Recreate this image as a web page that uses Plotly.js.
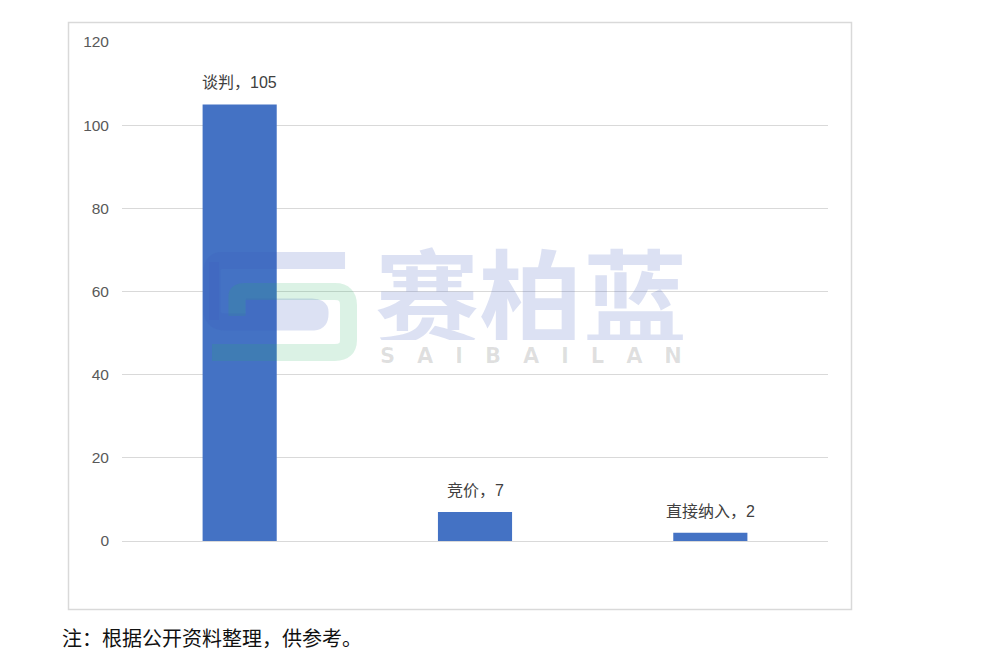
<!DOCTYPE html>
<html>
<head>
<meta charset="utf-8">
<script src="https://cdn.plot.ly/plotly-3.0.1.min.js"></script>
<style>html,body{margin:0;padding:0;background:#fff;}#chart{width:1000px;height:670px;}</style>
</head>
<body>
<div id="chart"></div>
<script>
const categories = ["谈判", "竞价", "直接纳入"];
const values = [105, 7, 2];
const tickVals = [0, 20, 40, 60, 80, 100, 120];
const footnote = "注：根据公开资料整理，供参考。";
const wmTitle = "赛柏蓝";
const wmLetters = ["S", "A", "I", "B", "A", "I", "L", "A", "N"];

const L = 122, R = 828, T = 42, B = 541;
const px = x => (x - L) / (R - L);
const py = y => (B - y) / (B - T);
function p(cmd, pts) { return cmd + ' ' + pts.map(q => px(q[0]).toFixed(4) + ',' + py(q[1]).toFixed(4)).join(' '); }

const bluePath = [
  p('M', [[345, 260.5]]), p('L', [[222, 260.5]]), p('Q', [[212, 260.5], [212, 272]]),
  p('L', [[212, 310]]), p('Q', [[212, 322], [226, 322]]), p('L', [[314, 322]]),
  p('Q', [[320, 322], [320, 314]]), p('L', [[320, 312]]), p('Q', [[320, 307], [312, 307]]),
  p('L', [[246, 307]])
].join(' ');
const blueLeft = [p('M', [[214, 262]]), p('L', [[214, 320]])].join(' ');
const greenPath = [
  p('M', [[237, 316]]), p('L', [[237, 296]]), p('Q', [[237, 291.5], [245, 291.5]]),
  p('L', [[335, 291.5]]), p('Q', [[348.5, 291.5], [348.5, 305]]), p('L', [[348.5, 340]]),
  p('Q', [[348.5, 352.5], [335, 352.5]]), p('L', [[212, 352.5]])
].join(' ');

const trace = {
  type: 'bar',
  x: categories,
  y: values,
  marker: {color: '#4472c4'},
  width: 0.315,
  hoverinfo: 'skip'
};

const annotations = categories.map((c, i) => ({
  x: c, y: values[i], xref: 'x', yref: 'y',
  text: c + '，' + values[i],
  showarrow: false, yanchor: 'bottom', yshift: 11,
  font: {family: 'Liberation Sans, Noto Sans CJK SC, sans-serif', size: 16, color: '#404040'}
}));
annotations.push({
  xref: 'paper', yref: 'paper', x: px(60), y: py(637), xanchor: 'left', yanchor: 'middle',
  text: footnote, showarrow: false,
  font: {family: 'Noto Sans CJK SC, sans-serif', size: 20, color: '#111'}
});
annotations.push({
  xref: 'paper', yref: 'paper', x: px(531), y: py(292), xanchor: 'center', yanchor: 'middle',
  text: '<b>' + wmTitle + '</b>', showarrow: false, height: 96,
  font: {family: 'Noto Sans CJK SC, sans-serif', size: 104, color: 'rgba(60,90,190,0.18)'}
});
annotations.push({
  xref: 'paper', yref: 'paper', x: px(531), y: py(356), xanchor: 'center', yanchor: 'middle',
  text: '<b>' + wmLetters.join('\u00a0\u00a0\u00a0') + '</b>', showarrow: false,
  font: {family: 'DejaVu Sans, sans-serif', size: 21, color: 'rgba(0,0,0,0.12)'}
});

const layout = {
  width: 1000, height: 670,
  margin: {l: L, r: 1000 - R, t: T, b: 670 - B},
  paper_bgcolor: '#fff', plot_bgcolor: '#fff',
  showlegend: false,
  bargap: 0.685,
  xaxis: {showticklabels: false, showgrid: false, zeroline: false, showline: false, ticks: ''},
  yaxis: {
    range: [0, 120], tickvals: tickVals, ticktext: tickVals.map(String),
    showgrid: true, gridcolor: '#d9d9d9', gridwidth: 1,
    zeroline: true, zerolinecolor: '#d9d9d9', zerolinewidth: 1,
    showline: false, ticks: '', ticklabelstandoff: 12,
    tickfont: {family: 'Liberation Sans, Arial, sans-serif', size: 15.5, color: '#595959'}
  },
  shapes: [
    {type: 'rect', xref: 'paper', yref: 'paper', x0: px(68.5), x1: px(851.5), y0: py(609.5), y1: py(22.5),
     line: {color: '#d9d9d9', width: 1.5}, fillcolor: 'rgba(0,0,0,0)', layer: 'below'},
    {type: 'path', xref: 'paper', yref: 'paper', path: greenPath,
     line: {color: 'rgba(40,180,100,0.17)', width: 17}, fillcolor: 'rgba(0,0,0,0)'},
    {type: 'path', xref: 'paper', yref: 'paper', path: bluePath,
     line: {color: 'rgba(60,90,190,0.18)', width: 17}, fillcolor: 'rgba(0,0,0,0)'},
    {type: 'path', xref: 'paper', yref: 'paper', path: blueLeft,
     line: {color: 'rgba(60,90,190,0.18)', width: 10}, fillcolor: 'rgba(0,0,0,0)'}
  ],
  annotations: annotations
};

Plotly.newPlot('chart', [trace], layout, {displayModeBar: false, staticPlot: true});
</script>
</body>
</html>
